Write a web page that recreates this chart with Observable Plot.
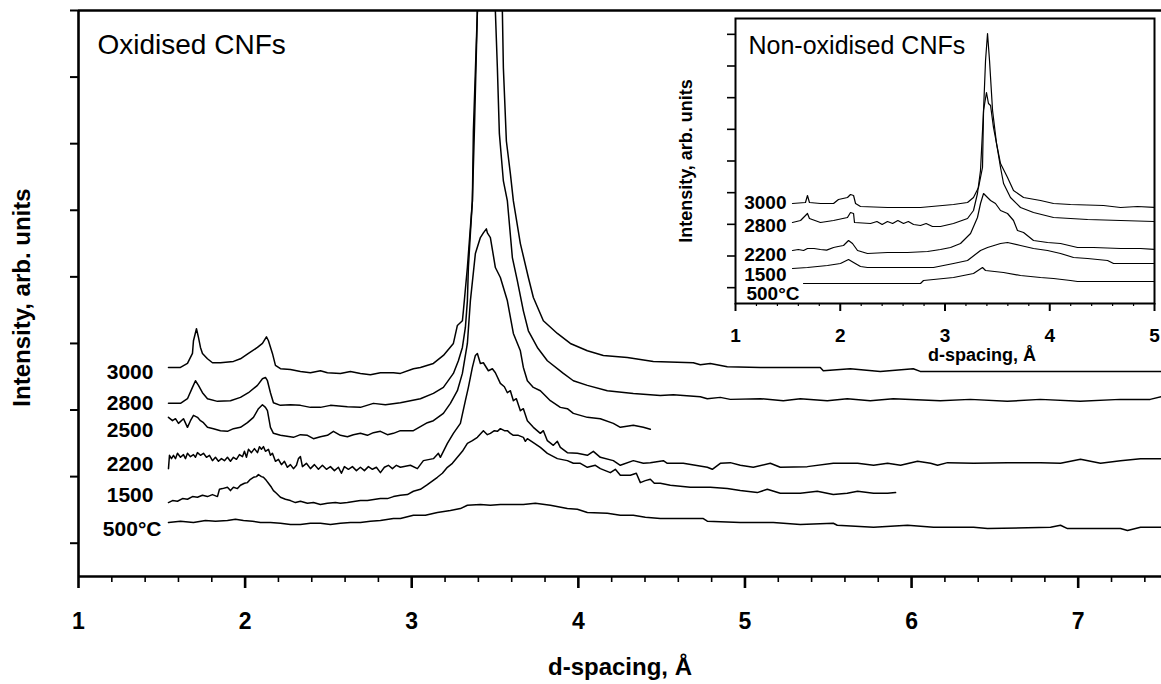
<!DOCTYPE html>
<html><head><meta charset="utf-8">
<script src="https://cdn.jsdelivr.net/npm/d3@7"></script>
<script src="https://cdn.jsdelivr.net/npm/@observablehq/plot@0.6"></script>
<style>
html,body{margin:0;padding:0;background:#fff;}
#chart{position:relative;width:1161px;height:684px;overflow:hidden;background:#fff;}
#chart svg{display:block;}
#inset{position:absolute;left:660px;top:0;}
</style></head><body><div id="chart"></div>
<script>
// ---------- Main panel: oxidised CNFs (d-spacing in Å, intensity arb. units) ----------
const d3000 = [1.540,1.612,1.654,1.684,1.690,1.708,1.720,1.732,1.744,1.774,1.804,1.852,1.930,1.972,2.020,2.074,2.104,2.128,2.140,2.164,2.182,2.212,2.272,2.332,2.392,2.452,2.494,2.572,2.632,2.692,2.752,2.812,2.890,2.932,3.010,3.052,3.130,3.190,3.250,3.274,3.304,3.310,3.334,3.364,3.370,3.394,3.468,3.544,3.550,3.568,3.592,3.610,3.652,3.700,3.730,3.790,3.874,3.952,4.054,4.150,4.294,4.450,4.690,4.732,4.792,4.894,5.092,5.452,5.470,5.632,5.812,6.010,6.052,7.500];
const i3000 = [314,314,320,335,354,372,359,344,335,327,321,321,323,327,335,344,350,360,354,335,317,312,311,308,306,309,306,305,308,305,303,306,306,305,312,314,320,332,350,377,384,399,464,564,669,849,1500,849,764,654,605,564,500,449,419,384,365,350,339,332,329,323,321,318,320,315,314,314,309,312,308,312,308,308];

const d2800 = [1.540,1.612,1.654,1.684,1.702,1.720,1.744,1.774,1.834,1.912,1.972,2.020,2.074,2.104,2.122,2.134,2.152,2.170,2.212,2.272,2.332,2.392,2.452,2.512,2.614,2.692,2.770,2.842,2.932,3.052,3.130,3.190,3.250,3.280,3.304,3.322,3.334,3.340,3.352,3.364,3.376,3.394,3.448,3.502,3.514,3.526,3.550,3.574,3.604,3.634,3.670,3.700,3.754,3.814,3.910,3.970,4.054,4.174,4.330,4.492,4.570,4.732,4.774,4.852,4.912,5.092,5.230,5.332,5.494,5.614,5.752,5.890,6.172,6.352,6.574,6.772,7.012,7.252,7.432,7.500];
const i2800 = [260,260,267,284,294,287,276,267,263,264,269,276,287,297,299,294,276,261,257,258,257,254,254,257,255,254,260,258,261,267,275,284,305,324,344,374,414,464,515,564,669,849,1250,849,764,665,594,564,479,444,399,369,344,324,305,294,287,279,275,272,273,270,267,269,266,267,264,267,264,267,264,267,264,266,263,266,263,266,266,270];

const d2500 = [1.540,1.564,1.582,1.600,1.630,1.654,1.672,1.690,1.714,1.732,1.750,1.774,1.810,1.852,1.894,1.930,1.972,2.014,2.050,2.080,2.104,2.122,2.134,2.152,2.170,2.212,2.290,2.332,2.374,2.410,2.452,2.494,2.530,2.572,2.614,2.650,2.692,2.734,2.770,2.812,2.854,2.890,2.932,3.010,3.094,3.130,3.190,3.232,3.274,3.304,3.334,3.352,3.382,3.412,3.430,3.448,3.454,3.472,3.502,3.532,3.574,3.610,3.652,3.670,3.694,3.730,3.772,3.832,3.892,3.934,3.970,4.054,4.132,4.210,4.252,4.330,4.390,4.432];
const i2500 = [239,234,237,230,237,224,234,242,239,234,231,224,222,219,218,222,224,231,239,252,258,254,249,224,215,212,209,213,212,207,210,212,218,212,210,213,215,212,216,218,213,215,219,219,231,234,245,260,279,305,350,414,485,509,516,522,516,509,464,449,414,365,339,314,294,284,279,264,254,252,245,239,237,230,224,227,224,221];

const d2200 = [1.540,1.546,1.558,1.570,1.582,1.594,1.612,1.630,1.642,1.654,
  1.672,1.690,1.702,1.714,1.732,1.750,1.768,1.786,1.804,1.822,
  1.840,1.858,1.876,1.894,1.912,1.930,1.948,1.966,1.984,1.996,
  2.008,2.020,2.038,2.056,2.074,2.086,2.098,2.110,2.122,2.140,
  2.152,2.164,2.182,2.200,2.218,2.236,2.254,2.272,2.290,2.308,
  2.320,2.332,2.344,2.368,2.392,2.416,2.440,2.464,2.488,2.512,
  2.536,2.560,2.578,2.596,2.620,2.644,2.668,2.692,2.716,2.740,
  2.764,2.788,2.812,2.836,2.860,2.884,2.908,2.932,2.992,3.034,
  3.070,3.130,3.160,3.172,3.214,3.250,3.292,3.322,3.340,3.364,
  3.382,3.394,3.412,3.430,3.460,3.484,3.502,3.532,3.556,3.574,
  3.592,3.610,3.628,3.652,3.670,3.694,3.730,3.772,3.790,3.814,
  3.850,3.874,3.892,3.934,3.994,4.054,4.090,4.132,4.210,4.252,
  4.330,4.390,4.432,4.510,4.534,4.630,4.774,4.804,4.852,4.912,
  4.972,5.050,5.152,5.212,5.374,5.530,5.676,5.772,5.856,5.934,
  6.036,6.114,6.156,6.216,6.372,6.576,6.774,6.894,7.014,7.134,
  7.254,7.374,7.500];
const i2200 = [162,182,177,182,177,185,179,183,177,185,
  180,183,179,186,182,185,179,182,174,179,
  173,177,174,179,173,179,176,183,180,188,
  179,191,186,192,186,195,191,195,188,191,
  182,185,173,176,168,173,164,168,162,167,
  177,180,165,170,162,168,161,167,161,165,
  159,164,155,165,161,165,159,164,159,165,
  161,164,156,164,167,162,167,164,167,162,
  174,177,185,179,200,215,230,264,284,314,
  332,335,320,321,309,312,306,290,285,276,
  279,264,267,249,252,234,224,215,219,204,
  197,203,194,186,185,182,188,179,174,167,
  174,170,171,174,170,170,164,161,170,171,
  167,164,170,164,165,170,170,167,170,167,
  173,170,167,171,170,171,171,170,176,170,
  174,177,177];

const d1500 = [1.540,1.564,1.594,1.624,1.654,1.684,1.714,1.744,1.774,1.804,
  1.834,1.846,1.864,1.894,1.912,1.930,1.954,1.972,1.996,2.014,
  2.032,2.050,2.068,2.080,2.098,2.110,2.128,2.140,2.158,2.170,
  2.188,2.212,2.242,2.272,2.302,2.332,2.374,2.410,2.452,2.494,
  2.542,2.572,2.614,2.662,2.692,2.734,2.782,2.812,2.854,2.890,
  2.932,2.974,3.010,3.052,3.094,3.154,3.184,3.214,3.244,3.274,
  3.304,3.334,3.364,3.394,3.430,3.454,3.472,3.496,3.514,3.532,
  3.556,3.574,3.592,3.610,3.640,3.670,3.682,3.694,3.730,3.772,
  3.814,3.874,3.934,3.970,4.012,4.054,4.102,4.132,4.192,4.222,
  4.252,4.312,4.348,4.372,4.402,4.432,4.456,4.492,4.552,4.672,
  4.792,4.894,4.972,5.074,5.134,5.212,5.332,5.434,5.530,5.614,
  5.676,5.772,5.856,5.904];
const i1500 = [111,114,113,117,116,120,119,122,120,123,
  120,131,132,134,129,134,132,137,140,141,
  146,149,150,153,150,149,144,140,134,129,
  125,119,116,114,111,113,110,111,108,110,
  111,110,111,113,114,114,116,117,117,120,
  122,123,128,131,138,149,155,164,170,179,
  188,200,204,209,219,213,215,219,218,222,
  219,219,215,212,212,209,203,207,201,194,
  185,177,174,170,170,164,167,162,156,161,
  152,152,155,141,144,146,140,140,137,134,
  134,132,129,126,131,125,125,128,123,125,
  128,125,125,126];

const d500 = [1.540,1.612,1.690,1.762,1.822,1.894,1.942,1.990,2.044,2.092,
  2.152,2.212,2.272,2.332,2.392,2.452,2.512,2.572,2.632,2.692,
  2.752,2.812,2.890,2.932,3.010,3.082,3.154,3.232,3.292,3.334,
  3.412,3.472,3.532,3.592,3.670,3.742,3.832,3.934,3.994,4.054,
  4.174,4.252,4.330,4.402,4.492,4.612,4.750,4.774,4.972,5.170,
  5.332,5.530,5.554,5.772,5.976,6.132,6.372,6.456,6.834,6.894,
  6.936,7.254,7.296,7.374,7.500];
const i500 = [81,83,81,84,83,84,86,84,83,81,
  81,80,78,78,80,80,78,80,81,81,
  83,84,87,87,92,92,96,99,102,107,
  108,107,108,108,108,110,107,102,101,96,
  95,92,92,89,87,87,87,83,81,81,
  78,80,77,74,77,74,74,72,74,77,
  72,72,69,74,74];

const mainLabels = ["3000","2800","2500","2200","1500","500°C"];
const mainLabelD = [1.45,1.45,1.45,1.45,1.45,1.498];
const mainLabelV = [306,260,219,168,122,71];

const mainMajorX = [1,2,3,4,5,6,7];
const mainMinorX = [1.2,1.4,1.6,1.8,2.2,2.4,2.6,2.8,3.2,3.4,3.6,3.8,4.2,4.4,4.6,4.8,5.2,5.4,5.6,5.8,6.2,6.4,6.6,6.8,7.2,7.4];
const mainTicksY = [50,150,250,350,450,550,650,750,850];

// ---------- Inset: non-oxidised CNFs ----------
const n3000d = [1.544,1.668,1.687,1.706,1.811,1.936,1.983,2.069,2.098,2.127,2.146,2.193,2.451,2.766,3.081,3.215,3.272,3.320,3.358,3.368,3.387,3.406,3.425,3.454,3.492,3.530,3.597,3.654,3.750,3.912,4.036,4.198,4.513,4.676,4.838,5.000];
const n3000v = [300,303,324,303,300,300,312,318,327,324,300,291,288,288,297,303,318,348,408,579,729,810,729,579,480,420,378,339,318,309,300,297,294,288,291,288];

const n2800d = [1.544,1.621,1.687,1.706,1.811,1.936,2.069,2.098,2.127,2.136,2.289,2.350,2.400,2.451,2.500,2.550,2.604,2.650,2.700,2.766,2.820,2.880,2.957,3.081,3.215,3.272,3.310,3.339,3.368,3.396,3.415,3.435,3.463,3.492,3.530,3.559,3.625,3.721,3.845,4.036,4.361,4.676,5.000];
const n2800v = [243,249,270,255,243,249,258,273,270,243,240,246,237,246,240,249,240,246,237,234,240,231,231,240,255,279,330,399,579,633,600,594,528,480,408,360,318,288,273,258,252,249,246];

const n2200d = [1.544,1.600,1.650,1.687,1.750,1.811,1.870,1.936,1.980,2.031,2.079,2.117,2.165,2.260,2.451,2.642,2.833,2.957,3.053,3.148,3.244,3.310,3.339,3.368,3.406,3.435,3.482,3.530,3.597,3.654,3.692,3.750,3.845,3.979,4.103,4.265,4.418,4.676,4.867,5.000];
const n2200v = [159,162,159,165,165,162,160,168,171,174,189,180,159,150,153,153,156,162,168,180,210,258,300,330,318,309,300,279,270,249,219,213,189,183,180,168,168,165,165,162];

const n1500d = [1.544,1.687,1.878,2.002,2.079,2.127,2.193,2.260,2.451,2.890,3.081,3.215,3.339,3.406,3.530,3.597,3.721,3.845,3.979,4.103,4.227,4.361,4.552,4.609,5.000];
const n1500v = [105,108,114,120,132,123,111,108,108,108,120,129,159,168,180,183,174,165,159,150,138,135,129,120,120];

const n500d = [1.649,2.127,2.766,2.795,3.081,3.272,3.358,3.387,3.559,3.721,3.912,4.036,4.198,4.265,5.000];
const n500v = [60,60,60,69,78,90,108,99,93,84,78,75,69,66,66];

const insetLabels = ["3000","2800","2200","1500","500°C"];
const insetLabelD = [1.487,1.487,1.487,1.487,1.611];
const insetLabelV = [303,234,147,87,30];

const insetMajorX = [1,2,3,4,5];
const insetMinorX = [1.2,1.4,1.6,1.8,2.2,2.4,2.6,2.8,3.2,3.4,3.6,3.8,4.2,4.4,4.6,4.8];
const insetTicksY = [47.5,142.5,237.5,332.5,427.5,522.5,617.5,712.5,807.5];

// ---------- build tables ----------
function rows(series, ds, vs) { return ds.map((d, i) => ({series, d, v: vs[i]})); }
const mainData = [
  ...rows("3000", d3000, i3000), ...rows("2800", d2800, i2800), ...rows("2500", d2500, i2500),
  ...rows("2200", d2200, i2200), ...rows("1500", d1500, i1500), ...rows("500", d500, i500)
];
const insetData = [
  ...rows("3000", n3000d, n3000v), ...rows("2800", n2800d, n2800v), ...rows("2200", n2200d, n2200v),
  ...rows("1500", n1500d, n1500v), ...rows("500", n500d, n500v)
];
const mainLab = mainLabels.map((t, i) => ({t, d: mainLabelD[i], v: mainLabelV[i]}));
const insetLab = insetLabels.map((t, i) => ({t, d: insetLabelD[i], v: insetLabelV[i]}));

const FONT = "'Liberation Sans', Arial, Helvetica, sans-serif";

const main = Plot.plot({
  width: 1161, height: 684,
  marginLeft: 78, marginRight: 0, marginTop: 10, marginBottom: 108,
  style: {fontFamily: FONT, background: "white", color: "black", overflow: "visible"},
  x: {domain: [1, 7.5], label: null},
  y: {domain: [0, 850], label: null},
  marks: [
    Plot.line(mainData, {x: "d", y: "v", z: "series", stroke: "black", strokeWidth: 1.5, clip: true}),
    Plot.ruleY([0], {stroke: "black", strokeWidth: 2.6}),
    Plot.ruleY([850], {stroke: "black", strokeWidth: 2.6}),
    Plot.ruleX([1], {stroke: "black", strokeWidth: 2.6}),
    Plot.axisX(mainMinorX, {tickSize: 6, strokeWidth: 1.6, tickFormat: () => "", label: null}),
    Plot.axisX(mainMajorX, {tickSize: 12, strokeWidth: 2.6, tickPadding: 24, tickFormat: d => String(d), fontSize: 23, fontWeight: "bold", label: null}),
    Plot.axisY(mainTicksY, {tickSize: 8, strokeWidth: 2, tickFormat: () => "", label: null}),
    Plot.text(mainLab, {x: "d", y: "v", text: "t", textAnchor: "end", lineAnchor: "middle", fontSize: 21, fontWeight: "bold"}),
    Plot.text(["Oxidised CNFs"], {frameAnchor: "top-left", dx: 19, dy: 35, textAnchor: "start", lineAnchor: "middle", fontSize: 28}),
    Plot.text(["Intensity, arb. units"], {frameAnchor: "left", dx: -56, dy: 4, rotate: -90, textAnchor: "middle", lineAnchor: "middle", fontSize: 24, fontWeight: "bold"}),
    Plot.text(["d-spacing, Å"], {frameAnchor: "bottom", dy: 91, textAnchor: "middle", lineAnchor: "middle", fontSize: 24, fontWeight: "bold"})
  ]
});

const inset = Plot.plot({
  width: 501, height: 370,
  marginLeft: 75, marginRight: 7, marginTop: 18, marginBottom: 67,
  style: {fontFamily: FONT, background: "transparent", color: "black", overflow: "visible"},
  x: {domain: [1, 5], label: null},
  y: {domain: [0, 855], label: null},
  marks: [
    Plot.frame({fill: "white", stroke: null}),
    Plot.line(insetData, {x: "d", y: "v", z: "series", stroke: "black", strokeWidth: 1.2, clip: true}),
    Plot.frame({stroke: "black", strokeWidth: 2}),
    Plot.axisX(insetMinorX, {tickSize: 3, strokeWidth: 1.2, tickFormat: () => "", label: null}),
    Plot.axisX(insetMajorX, {tickSize: 8, strokeWidth: 2, tickPadding: 17, tickFormat: d => String(d), fontSize: 19, fontWeight: "bold", label: null}),
    Plot.axisY(insetTicksY, {tickSize: 8, strokeWidth: 1.6, tickFormat: () => "", label: null}),
    Plot.text(insetLab, {x: "d", y: "v", text: "t", textAnchor: "end", lineAnchor: "middle", fontSize: 19, fontWeight: "bold"}),
    Plot.text(["Non-oxidised CNFs"], {frameAnchor: "top-left", dx: 13, dy: 27, textAnchor: "start", lineAnchor: "middle", fontSize: 25}),
    Plot.text(["Intensity, arb. units"], {frameAnchor: "left", dx: -49, rotate: -90, textAnchor: "middle", lineAnchor: "middle", fontSize: 18, fontWeight: "bold"}),
    Plot.text(["d-spacing, Å"], {frameAnchor: "bottom", dx: 37, dy: 52, textAnchor: "middle", lineAnchor: "middle", fontSize: 18, fontWeight: "bold"})
  ]
});
inset.id = "inset";

const chart = document.getElementById("chart");
chart.appendChild(main);
chart.appendChild(inset);
</script>
</body></html>
